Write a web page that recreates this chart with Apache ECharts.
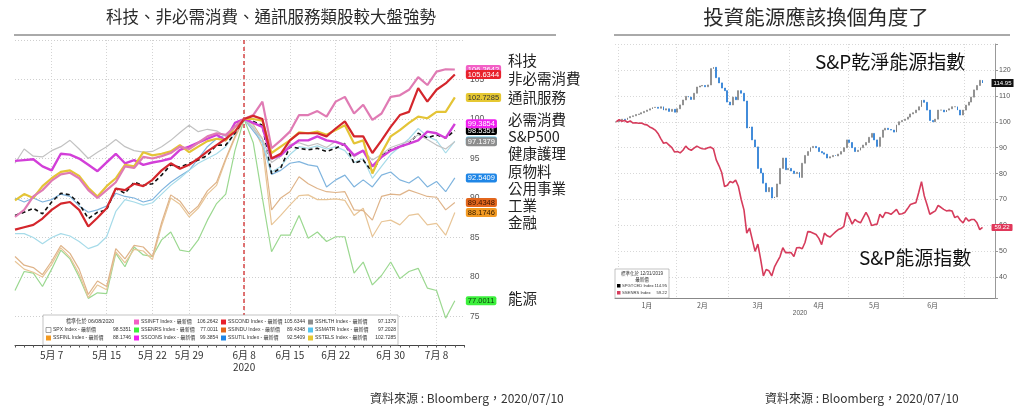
<!DOCTYPE html>
<html>
<head>
<meta charset="utf-8">
<script src="https://cdn.jsdelivr.net/npm/echarts@6/dist/echarts.min.js"></script>
<style>
  html, body { margin: 0; padding: 0; background: #fff; }
  #chart { width: 1024px; height: 410px; }
</style>
</head>
<body>
<div id="chart"></div>
<script>
// trading days 2020
const janDays = [2,3,6,7,8,9,10,13,14,15,16,17,21,22,23,24,27,28,29,30,31];
const febDays = [3,4,5,6,7,10,11,12,13,14,18,19,20,21,24,25,26,27,28];
const marDays = [2,3,4,5,6,9,10,11,12,13,16,17,18,19,20,23,24,25,26,27,30,31];
const aprDays = [1,2,3,6,7,8,9,13,14,15,16,17,20,21,22,23,24,27,28,29,30];
const mayDays = [1,4,5,6,7,8,11,12,13,14,15,18,19,20,21,22,26,27,28,29];
const junDays = [1,2,3,4,5,8,9,10,11,12,15,16,17,18,19,22,23,24,25,26,29,30];
const julDays = [1,2,6,7,8,9,10];

// left chart: sectors normalised to 100 on 06/08/2020 (5/1 .. 7/10)
const leftTickDates = ['5/7', '5/15', '5/22', '5/29', '6/8', '6/15', '6/22', '6/30', '7/8'];
const ssinft = [87.6, 88.5, 90.2, 91, 92.2, 93, 93.2, 92.5, 91, 90, 91, 92, 94, 93.8, 95.2, 95, 95.3, 95.7, 96.5, 96.2, 97, 97.8, 98.2, 98, 99,
  100, 100.5, 102.2, 96.3, 97.3, 98.4, 100.5, 100.5, 101, 100.3, 102.2, 102.8, 100.7, 101.8, 99.9, 100.7, 102.8, 103, 103.7, 105.3, 104.3, 106, 106.3, 106.2642];
const sscond = [86, 86.3, 86.6, 87.4, 88.5, 89.3, 89.5, 88.5, 86.4, 87.5, 88.7, 91.2, 91, 91.8, 91.5, 92.3, 93.5, 94.4, 93.7, 94.2, 95, 95.9, 96.7, 97.5, 98.4,
  100, 100.4, 100, 95, 95.6, 97.3, 98.2, 98.2, 98.2, 97.8, 98.8, 99.7, 97.8, 97.8, 95.7, 97.3, 99, 100.5, 100.9, 103.9, 102.2, 103.7, 104.5, 105.6344];
const sstels = [89.7, 90.5, 90, 91.5, 92.5, 93.3, 93.5, 92.8, 91.3, 90.2, 91.5, 92.5, 94.2, 94, 95.8, 95.4, 95.6, 95.9, 96.7, 95.8, 96.5, 97.2, 97.5, 97.3, 99,
  100, 100, 99.8, 95.7, 96.5, 97.3, 98.3, 98.2, 98.4, 98, 98.6, 99.2, 96.9, 97.3, 93.1, 95.7, 97.8, 98.6, 99.5, 100.3, 100.1, 100.9, 100.9, 102.7285];
const sscons = [94.7, 94.8, 94.9, 94, 93.5, 95.6, 95.5, 95, 94.2, 93.4, 94.5, 95.6, 94.4, 94.8, 94.2, 94.5, 94.7, 95, 96.1, 96.5, 97, 97.5, 98, 97.3, 99.5,
  100, 99.5, 99, 95, 95.4, 96.5, 97.3, 97.3, 97.8, 97.3, 97.1, 96.7, 95.4, 96, 94, 95.2, 96, 96.5, 96.9, 97.3, 98.4, 98.2, 97.6, 99.3854];
const spx = [87.8, 88.2, 88.7, 88, 89.5, 90.6, 90.4, 89.3, 87.4, 88.2, 88.5, 91.2, 90.6, 92, 91.6, 91.8, 92.9, 94.2, 93.9, 94.4, 94.8, 95.4, 96.7, 96.7, 98.2,
  100, 99.7, 99.2, 93.1, 93.8, 96.5, 96.3, 96.1, 96.3, 95.9, 96.3, 96.9, 94.4, 94.8, 93.3, 95.4, 96.1, 96.5, 96.9, 98.2, 97.6, 98, 97.6, 98.5351];
const sshlth = [94.4, 96.2, 95.3, 95.2, 96, 96.5, 97.3, 96.2, 95, 95.8, 96.5, 97.4, 96.5, 96, 95.8, 95.9, 96.5, 97.3, 98.3, 99.2, 98.4, 98.7, 98.5, 97.8, 99.5,
  100, 98.8, 97.5, 94.5, 95.3, 96.8, 97, 96.6, 96.9, 96.4, 97.2, 96.8, 95.2, 96, 94.8, 95.5, 96.4, 96.8, 97.2, 98, 97.4, 96.7, 96.2, 97.1379];
const ssmatr = [85.5, 85.5, 85, 84.2, 85, 85.5, 85.2, 84.5, 83.6, 84, 85.1, 88.3, 89.8, 89.5, 89.1, 89.4, 90.5, 91.6, 92.5, 93.5, 94.4, 95, 95.6, 96.5, 98.2,
  100, 99, 97, 93.3, 94, 95.5, 96.5, 96.3, 96.6, 96.2, 96.5, 96, 94.5, 95, 92.5, 94, 95.5, 96.5, 97.5, 98.8, 97.8, 97.3, 95.7, 97.2028];
const ssutil = [90, 89.5, 90, 89.5, 89.8, 90.5, 90.2, 89, 88.2, 88.5, 89, 90.6, 90.2, 90, 89.5, 89.8, 91, 92, 92.8, 93.5, 95, 96.5, 97.5, 98, 99,
  100, 98.5, 97, 93, 93.5, 94.4, 94.6, 94.2, 94, 91.4, 92.3, 92.9, 91.4, 92.3, 91.4, 92.9, 93.3, 92.3, 91.9, 92.7, 91.4, 92.1, 90.8, 92.5409];
const ssindu = [82.6, 81.5, 81.2, 80.3, 82, 84, 83, 81, 77.8, 79.5, 78.8, 83.6, 82.3, 84, 83.8, 82.6, 86.9, 90.4, 89.6, 88, 89, 90.9, 92, 95, 97.8,
  100, 99.3, 97.5, 88.5, 90, 90.8, 92.7, 91.8, 91.2, 90.8, 90.7, 90.8, 88.5, 88.4, 87.2, 90.2, 90.5, 90.4, 91, 90.6, 90.2, 90.1, 88.5, 89.4348];
const ssfinl = [82, 81, 80.6, 80, 81.6, 83.7, 82.5, 80.4, 77.4, 79, 78.4, 83.2, 81.8, 83.5, 83.3, 82.2, 86.5, 90, 89.2, 87.6, 88.7, 90.5, 91.6, 94.8, 97.6,
  100, 99, 96.5, 86.6, 87.8, 89.1, 90.3, 90.4, 89.8, 89.8, 89.9, 89.7, 87.8, 88.7, 85.1, 87, 87.2, 86.6, 87.8, 88, 86.6, 86.8, 85.3, 88.1746];
const ssenrs = [78.3, 80.7, 80.5, 78.8, 81, 83.4, 82.3, 80, 77.3, 78, 77.9, 83, 81.3, 83.8, 82.8, 82.6, 84.7, 85.7, 83.4, 83.2, 84.7, 87.2, 89.3, 90.5, 96,
  100, 97, 90, 83.2, 85.3, 85.3, 87.8, 84.9, 85.7, 84.5, 85.1, 85.1, 80.5, 81.9, 79, 80.2, 81.9, 79.8, 80.7, 81.1, 78.6, 78.3, 74.8, 77.0011];
const leftNames = ['科技', '非必需消費', '通訊服務', '必需消費', 'S&P500', '健康護理', '原物料', '公用事業', '工業', '金融', '能源'];

// right chart: normalised to 100 on 12/31/2019
const cleanClose = [100,
  100.5, 101, 100.8, 101.5, 102, 102.3, 102.8, 103, 103.5, 104, 104.5, 105, 105.5, 105.6, 105.2, 105.8, 104.5, 105, 104, 104.8, 103.7,
  105, 106.5, 108.4, 109.8, 109.5, 108.6, 111, 113.4, 113.8, 114, 113.5, 114.2, 120.5, 121, 117, 115, 113, 112, 107.6,
  106.5, 109.5, 108.5, 112, 111, 108, 97.6, 98, 93, 90.3, 82, 80.2, 76.3, 73, 74.6, 70.6, 71, 76, 82, 86, 81.5, 82,
  81, 80, 80.5, 78.5, 84, 87, 88.5, 90, 90.5, 90, 88.5, 88, 87.5, 86, 86.5, 87, 86.8, 87.5, 88.5, 90, 93,
  92, 90, 88.5, 89, 90, 91, 92, 94, 95.5, 93, 90.5, 94, 96.8, 97.5, 97, 96.8, 96, 98.8, 100, 100.5,
  101, 101.8, 103, 103.5, 104.5, 105.8, 108.3, 107.5, 104.5, 100.5, 100, 101, 104.5, 104.5, 103.8, 104.5, 105, 105.8, 105.8, 104.5, 102.6, 104.5,
  106.4, 107.6, 109.5, 112.3, 114, 116, 114.95];
const energyClose = [100,
  100.8, 100.2, 100.5, 99.8, 100.3, 99.5, 99.6, 99.4, 99.5, 99, 98.8, 98, 97.5, 96.8, 95.5, 93.5, 91.7, 92, 91, 90, 88.3,
  88.5, 88, 89, 90.6, 89.5, 89, 89.8, 90.6, 90, 89.6, 89.5, 90, 90.2, 89.5, 85.3, 83, 80.3, 75, 75.5,
  77, 76.5, 77.5, 75, 70, 66, 57, 59, 54.5, 50, 52.8, 47, 40.5, 43, 42.5, 40.5, 44, 46, 48, 51.4, 49.5, 49.5,
  49.5, 48, 51.4, 51.5, 51, 53.4, 57.6, 57.5, 57, 56.5, 55, 52.6, 57, 56, 55.5, 56.5, 57.5, 58.4, 58.8, 59.6, 65,
  63, 60.5, 62.3, 61.5, 61, 63, 65, 63, 60, 60.3, 60.5, 64.3, 63, 65, 64.8, 64.3, 65.2, 66.2, 64.3, 64.5,
  65, 66.5, 68.1, 68.5, 68.8, 72.7, 76.9, 71.4, 68, 64.3, 65, 65.6, 67.7, 67, 66.2, 65.6, 65.8, 65.6, 63, 63.6, 62, 61,
  63, 61.7, 62.3, 62.3, 61, 58.4, 59.22];

const CJK = '"Noto Sans CJK TC", "Noto Sans CJK SC", sans-serif';
const LAT = '"Liberation Sans", Arial, sans-serif';
const NARROW = '"Liberation Sans Narrow", "Liberation Sans", "Noto Sans CJK TC", sans-serif';

// categories
const leftDates = [];
[[5, mayDays], [6, junDays], [7, julDays]].forEach(([m, days]) => days.forEach(d => leftDates.push(m + '/' + d)));
leftDates.push('');

const rightDates = ['2019-12-31'];
const monthMid = {};
[[1, janDays], [2, febDays], [3, marDays], [4, aprDays], [5, mayDays], [6, junDays], [7, julDays]].forEach(([m, days]) => {
  days.forEach((d, i) => {
    if (m < 7 && i === Math.floor((days.length - 1) / 2)) monthMid[rightDates.length] = m;
    rightDates.push('2020-' + String(m).padStart(2, '0') + '-' + String(d).padStart(2, '0'));
  });
});
const nRight = rightDates.length;
for (let i = 0; i < 4; i++) rightDates.push('');

const candles = cleanClose.map((c, i) => {
  const o = i === 0 ? c : cleanClose[i - 1];
  return [o, c, Math.min(o, c), Math.max(o, c)];
});

function monthStart(idx) {
  if (idx === 0 || !rightDates[idx] || !rightDates[idx - 1]) return false;
  return rightDates[idx].slice(5, 7) !== rightDates[idx - 1].slice(5, 7);
}

// left series styling (drawing order)
const leftMeta = [
  { code: 'SSENRS', data: ssenrs, line: '#9bd890', w: 1.2, tag: '#3cf03c', txt: '#0b3d0b' },
  { code: 'SSFINL', data: ssfinl, line: '#e8c597', w: 1.2, tag: '#f39a22', txt: '#3a2000' },
  { code: 'SSINDU', data: ssindu, line: '#dfb48a', w: 1.2, tag: '#e2661c', txt: '#3a1500' },
  { code: 'SSUTIL', data: ssutil, line: '#7fb4de', w: 1.2, tag: '#1f86e6', txt: '#fff' },
  { code: 'SSMATR', data: ssmatr, line: '#a6dbe9', w: 1.2, tag: '#55c4ee', txt: '#fff' },
  { code: 'SPX', data: spx, line: '#111111', w: 1.6, dash: [4, 3], tag: '#000', txt: '#fff' },
  { code: 'SSHLTH', data: sshlth, line: '#c2c2c2', w: 1.2, tag: '#8d8d8d', txt: '#fff' },
  { code: 'SSCONS', data: sscons, line: '#d23fd8', w: 2.4, tag: '#f020f0', txt: '#fff' },
  { code: 'SSTELS', data: sstels, line: '#e4c436', w: 2.2, tag: '#e6c832', txt: '#333' },
  { code: 'SSINFT', data: ssinft, line: '#e07bb4', w: 2.2, tag: '#f25fc6', txt: '#fff' },
  { code: 'SSCOND', data: sscond, line: '#d4262c', w: 2.2, tag: '#e8222c', txt: '#fff' }
];
const metaByCode = {};
leftMeta.forEach(m => { metaByCode[m.code] = m; });

const leftSeries = leftMeta.map(m => ({
  name: m.code,
  type: 'line',
  xAxisIndex: 0,
  yAxisIndex: 0,
  data: m.data,
  showSymbol: false,
  symbol: 'none',
  silent: true,
  lineStyle: { color: m.line, width: m.w, type: m.dash || 'solid' },
  endLabel: {
    show: true,
    formatter: p => Number(p.value).toFixed(4),
    distance: 11,
    fontSize: 7.5,
    fontFamily: LAT,
    color: m.txt,
    backgroundColor: m.tag,
    borderRadius: 2,
    padding: [1, 2, 0, 2]
  },
  markLine: m.code === 'SPX' ? {
    silent: true,
    symbol: ['none', 'none'],
    label: { show: false },
    lineStyle: { color: '#d64545', type: [4, 3], width: 1.5 },
    data: [{ xAxis: '6/8' }]
  } : undefined
}));

// graphic elements
const g = [];
function txt(x, y, text, size, opt) {
  opt = opt || {};
  g.push({
    type: 'text', x: x, y: y, z: 60,
    style: {
      text: text, fill: opt.fill || '#222',
      font: (opt.weight || 'normal') + ' ' + size + 'px ' + (opt.family || CJK),
      textAlign: opt.align || 'left', textVerticalAlign: 'middle'
    }
  });
}
function line(x1, y1, x2, y2, color, w) {
  g.push({ type: 'line', z: 60, shape: { x1, y1, x2, y2 }, style: { stroke: color, lineWidth: w || 1 } });
}
function rect(x, y, w, h, fill, stroke) {
  g.push({ type: 'rect', z: 55, shape: { x, y, width: w, height: h }, style: { fill: fill, stroke: stroke || null, lineWidth: 0.6 } });
}

// titles
txt(271, 17, '科技、非必需消費、通訊服務類股較大盤強勢', 16.5, { align: 'center', fill: '#2a2a2a' });
line(14, 35, 556, 35, '#555', 1);
txt(816, 17, '投資能源應該換個角度了', 20.5, { align: 'center', fill: '#2a2a2a' });
line(614, 35, 1010, 35, '#555', 1);

// sources
txt(370, 398, '資料來源 : Bloomberg，2020/07/10', 12, { fill: '#333' });
txt(765, 398, '資料來源 : Bloomberg，2020/07/10', 12, { fill: '#333' });

// left sector names
const nameY = [60, 78, 97, 119, 136, 153, 171, 188, 205, 222, 298];
leftNames.forEach((n, i) => txt(508, nameY[i], n, 14.5, { fill: '#222' }));

// left legend box
rect(43, 315, 355, 30, '#ffffff', '#9a9a9a');
const legendCols = [
  [null, 'SPX', 'SSFINL'],
  ['SSINFT', 'SSENRS', 'SSCONS'],
  ['SSCOND', 'SSINDU', 'SSUTIL'],
  ['SSHLTH', 'SSMATR', 'SSTELS']
];
const colX = [46, 134, 221, 308];
const colEnd = [131, 218, 305, 396];
const rowY = [322, 330, 338];
txt(90, rowY[0], '標準化於 06/08/2020', 5.2, { align: 'center', fill: '#333', family: NARROW });
legendCols.forEach((col, ci) => {
  col.forEach((code, ri) => {
    if (!code) return;
    const m = metaByCode[code];
    const x = colX[ci], y = rowY[ri];
    if (code === 'SPX') rect(x, y - 2.5, 5, 5, '#fff', '#666');
    else rect(x, y - 2.5, 5, 5, m.tag, null);
    txt(x + 7, y, code + ' Index - 最新價', 5, { fill: '#333', family: NARROW });
    txt(colEnd[ci], y, m.data[m.data.length - 1].toFixed(4), 5, { fill: '#333', align: 'right', family: NARROW });
  });
});

// right chart labels
txt(815, 62, 'S&P乾淨能源指數', 19, { fill: '#111' });
txt(859, 258, 'S&P能源指數', 19, { fill: '#111' });
txt(800, 313, '2020', 6.5, { align: 'center', fill: '#555', family: LAT });

// right legend box
rect(615, 269, 54, 29, '#ffffff', '#9a9a9a');
txt(642, 274, '標準化於 12/31/2019', 4.5, { align: 'center', fill: '#333', family: NARROW });
txt(642, 280, '最新價', 4.5, { align: 'center', fill: '#333', family: NARROW });
rect(617, 284, 3.5, 3.5, '#000', null);
txt(622, 286, 'SPGTCED Index', 4.2, { fill: '#333', family: NARROW });
txt(667, 286, cleanClose[cleanClose.length - 1].toFixed(2), 4.2, { fill: '#333', align: 'right', family: NARROW });
rect(617, 291, 3.5, 3.5, '#d63c5c', null);
txt(622, 293, 'SSENRS Index', 4.2, { fill: '#333', family: NARROW });
txt(667, 293, energyClose[energyClose.length - 1].toFixed(2), 4.2, { fill: '#333', align: 'right', family: NARROW });

const option = {
  animation: false,
  backgroundColor: '#ffffff',
  grid: [
    { left: 15, top: 40, width: 449, height: 305 },
    { left: 615, top: 44, width: 380, height: 254 }
  ],
  xAxis: [
    {
      gridIndex: 0,
      type: 'category',
      data: leftDates,
      boundaryGap: false,
      axisLine: { lineStyle: { color: '#444', width: 1 } },
      axisTick: { interval: 0, length: 2.5, lineStyle: { color: '#555' } },
      axisLabel: {
        interval: (i, v) => leftTickDates.includes(v),
        formatter: v => {
          const p = v.split('/');
          return p[0] + '月 ' + p[1] + (v === '6/8' ? '\n2020' : '');
        },
        fontSize: 10, color: '#333', margin: 4, lineHeight: 12, fontFamily: CJK
      },
      splitLine: {
        show: true,
        interval: (i, v) => leftTickDates.includes(v),
        lineStyle: { color: '#d4d4d4', type: [1, 2] }
      }
    },
    {
      gridIndex: 1,
      type: 'category',
      data: rightDates,
      boundaryGap: true,
      axisLine: { lineStyle: { color: '#888' } },
      axisTick: { interval: i => monthStart(i), length: 3, lineStyle: { color: '#888' } },
      axisLabel: {
        interval: i => monthMid[i] !== undefined,
        formatter: v => (v ? parseInt(v.slice(5, 7), 10) + '月' : ''),
        fontSize: 7, color: '#555', margin: 4, fontFamily: CJK
      },
      splitLine: {
        show: true,
        interval: i => monthStart(i),
        lineStyle: { color: '#d8d8d8', type: [1, 2] }
      }
    }
  ],
  yAxis: [
    {
      gridIndex: 0,
      type: 'value',
      position: 'right',
      min: 71.4,
      max: 110,
      splitNumber: 8,
      axisLine: { show: false },
      axisTick: { show: false },
      axisLabel: {
        fontSize: 8.5, color: '#555', margin: 6, fontFamily: LAT,
        formatter: v => (v % 5 === 0 && v < 110 ? String(v) : '')
      },
      splitLine: { lineStyle: { color: '#cfcfcf', type: [1, 2] } }
    },
    {
      gridIndex: 1,
      type: 'value',
      position: 'right',
      min: 32,
      max: 130,
      splitNumber: 10,
      axisLine: { show: true, lineStyle: { color: '#999' } },
      axisTick: { show: true, length: 3, lineStyle: { color: '#999' } },
      axisLabel: {
        fontSize: 7, color: '#555', margin: 4, fontFamily: LAT,
        formatter: v => (v % 10 === 0 && v >= 40 && v <= 120 ? String(v) : '')
      },
      splitLine: { lineStyle: { color: '#d8d8d8', type: [1, 2] } }
    }
  ],
  series: leftSeries.concat([
    {
      name: 'SPGTCED',
      type: 'candlestick',
      xAxisIndex: 1,
      yAxisIndex: 1,
      data: candles,
      barMaxWidth: 2.2,
      silent: true,
      itemStyle: {
        color: '#cfcfcf', color0: '#2d7fd6',
        borderColor: '#7d7d7d', borderColor0: '#2d7fd6', borderWidth: 0.8
      },
      markPoint: {
        silent: true,
        symbol: 'rect',
        symbolSize: [22, 8],
        symbolOffset: [20, 0],
        itemStyle: { color: '#111' },
        label: { show: true, color: '#fff', fontSize: 6, fontFamily: LAT, formatter: p => p.value },
        data: [{ coord: [rightDates[nRight - 1], cleanClose[nRight - 1]], value: cleanClose[nRight - 1].toFixed(2) }]
      }
    },
    {
      name: 'SSENRS-YTD',
      type: 'line',
      xAxisIndex: 1,
      yAxisIndex: 1,
      data: energyClose,
      showSymbol: false,
      symbol: 'none',
      silent: true,
      lineStyle: { color: '#d63c5c', width: 1.6 },
      endLabel: {
        show: true,
        formatter: p => Number(p.value).toFixed(2),
        distance: 9,
        fontSize: 6, fontFamily: LAT, color: '#fff',
        backgroundColor: '#e0385a', borderRadius: 1, padding: [1, 3, 0, 3]
      }
    }
  ]),
  graphic: { elements: g }
};

const chart = echarts.init(document.getElementById('chart'));
chart.setOption(option);
</script>
</body>
</html>
